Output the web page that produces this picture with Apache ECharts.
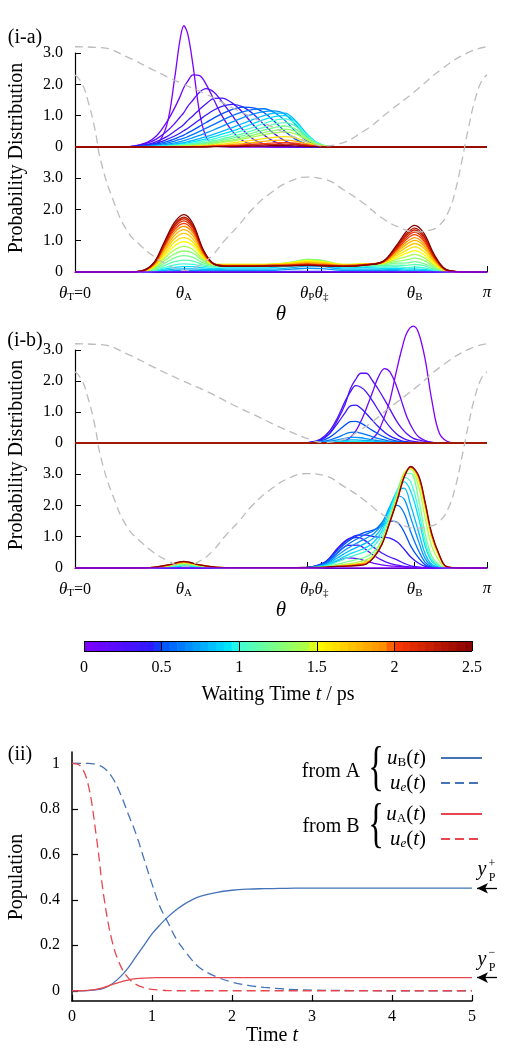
<!DOCTYPE html>
<html>
<head>
<meta charset="utf-8">
<script src="https://cdn.jsdelivr.net/npm/echarts@6.0.0/dist/echarts.min.js"></script>
<style>
  html, body { margin: 0; padding: 0; background: #fff; }
  #chart { width: 510px; height: 1050px; }
</style>
</head>
<body>
<div id="chart"></div>
<script>
const SERIF = '"Liberation Serif", "Times New Roman", serif'

// ---- theta marks
const thetaA = 0.83, thetaP = 1.77, thetaTS = 1.88, thetaB = 2.59
const thetaTickVals = [0, thetaA, thetaP, thetaTS, thetaB, Math.PI]
const thetaTickText = ['{i|θ}{s|T}{n|=0}', '{i|θ}{s|A}', '{i|θ}{s|P}', '{i|θ}{s|‡}', '{i|θ}{s|B}', '{i|π}']

// ---- potentials (drawn across each panel, units of the probability scale, lower baseline = 0)
const thetaPotE = [0, 0.2, 0.4, 0.6, 0.8, 1.0, 1.2, 1.4, 1.6, 1.8, 1.9, 2.0, 2.2, 2.4, 2.6, 2.8, 3.0, 3.1416]
const potExcited = [7.2, 7.17, 6.87, 6.45, 6.05, 5.68, 5.25, 4.85, 4.45, 4.12, 4.03, 4.08, 4.5, 5.15, 5.8, 6.5, 7.02, 7.2]
const thetaPotG = [0, 0.05, 0.1, 0.15, 0.2, 0.3, 0.4, 0.5, 0.6, 0.7, 0.83, 0.95, 1.05, 1.15, 1.25, 1.35, 1.5, 1.65, 1.77, 1.9, 2.05, 2.2, 2.35, 2.5, 2.6, 2.7, 2.78, 2.85, 2.9, 2.95, 3.0, 3.05, 3.1, 3.1416]
const potGround = [6.3, 6.05, 5.45, 4.6, 3.5, 2.2, 1.3, 0.85, 0.5, 0.25, 0.05, 0.22, 0.55, 1.05, 1.5, 2.0, 2.55, 2.92, 3.03, 2.97, 2.62, 2.2, 1.7, 1.38, 1.28, 1.33, 1.5, 1.95, 2.6, 3.55, 4.6, 5.5, 6.1, 6.3]

// ---- (i-a) upper
const thetaUpA = [0, 0.35, 0.45, 0.55, 0.62, 0.70, 0.76, 0.80, 0.83, 0.86, 0.90, 0.95, 1.00, 1.06, 1.12, 1.20, 1.28, 1.36, 1.44, 1.52, 1.60, 1.68, 1.76, 1.84, 1.95, 3.1416]
const timesUpA = [0, 0.1, 0.2, 0.3, 0.4, 0.5, 0.6, 0.7, 0.8, 0.9, 1.0, 1.1, 1.2, 1.3, 1.4, 1.6, 1.8, 2.0, 2.2, 2.5]
const probUpA = [
  [0, 0,0,.02,.08,.7,2.2,3.4,3.87,3.6,2.6, 1.1,.32,.06,.01,0,0,0,0,0,0, 0,0,0,0, 0],
  [0, 0,.03,.15,.35,.8,1.25,1.6,1.9,2.1,2.3, 2.28,2.0,1.5,1.0,.5,.2,.07,.02,0,0, 0,0,0,0, 0],
  [0, 0,.03,.12,.25,.5,.75,.95,1.1,1.3,1.5, 1.75,1.86,1.75,1.45,1.0,.55,.25,.1,.03,.01, 0,0,0,0, 0],
  [0, 0,.02,.08,.17,.33,.5,.62,.72,.85,1.0, 1.2,1.38,1.55,1.56,1.4,1.1,.7,.38,.17,.06, .02,0,0,0, 0],
  [0, 0,.02,.06,.12,.24,.35,.44,.52,.6,.72, .87,1.02,1.18,1.3,1.36,1.28,1.05,.72,.42,.2, .08,.02,0,0, 0],
  [0, 0,.01,.04,.09,.17,.26,.33,.38,.45,.54, .66,.78,.93,1.06,1.2,1.27,1.25,1.1,.82,.5, .25,.1,.03,0, 0],
  [0, 0,.01,.03,.06,.12,.19,.24,.28,.33,.4, .5,.6,.72,.85,1.0,1.12,1.2,1.22,1.1,.85, .5,.22,.07,0, 0],
  [0, 0,.01,.02,.04,.08,.13,.17,.2,.24,.3, .37,.45,.55,.66,.8,.94,1.05,1.13,1.15,1.05, .72,.35,.12,.01, 0],
  [0, 0,0,.01,.03,.06,.09,.12,.14,.17,.21, .27,.33,.41,.5,.62,.75,.88,1.0,1.08,1.08, .85,.45,.15,.01, 0],
  [0, 0,0,.01,.02,.04,.07,.09,.11,.13,.16, .21,.26,.33,.41,.51,.63,.75,.87,.97,1.0, .82,.45,.15,.01, 0],
  [0, 0,0,.01,.02,.03,.05,.07,.08,.1,.12, .16,.2,.26,.33,.42,.52,.63,.75,.85,.9, .76,.42,.14,.01, 0],
  [0, 0,0,0,.01,.02,.04,.05,.06,.07,.09, .12,.15,.2,.26,.34,.43,.53,.63,.73,.78, .67,.38,.13,.01, 0],
  [0, 0,0,0,.01,.02,.03,.04,.05,.06,.07, .09,.12,.16,.21,.28,.36,.45,.54,.62,.67, .58,.33,.11,.01, 0],
  [0, 0,0,0,.01,.01,.02,.03,.04,.04,.05, .07,.09,.13,.17,.23,.3,.38,.46,.53,.57, .5,.29,.1,.01, 0],
  [0, 0,0,0,0,.01,.02,.02,.03,.03,.04, .05,.07,.1,.14,.19,.25,.32,.39,.45,.48, .42,.25,.09,.01, 0],
  [0, 0,0,0,0,.01,.01,.01,.02,.02,.03, .04,.05,.07,.09,.13,.17,.22,.27,.31,.33, .29,.17,.06,0, 0],
  [0, 0,0,0,0,0,.01,.01,.01,.01,.02, .02,.03,.04,.06,.08,.11,.14,.18,.21,.22, .19,.11,.04,0, 0],
  [0, 0,0,0,0,0,0,0,.01,.01,.01, .01,.02,.03,.04,.05,.07,.09,.11,.13,.14, .12,.07,.03,0, 0],
  [0, 0,0,0,0,0,0,0,0,0,.01, .01,.01,.02,.02,.03,.04,.06,.07,.08,.09, .08,.05,.02,0, 0],
  [0, 0,0,0,0,0,0,0,0,0,0, 0,0,.01,.01,.01,.02,.03,.03,.04,.04, .03,.02,.01,0, 0]
]

// ---- (i-a) lower
const thetaLoA = [0, 0.35, 0.50, 0.60, 0.68, 0.76, 0.83, 0.90, 0.98, 1.06, 1.16, 1.30, 1.50, 1.66, 1.77, 1.88, 2.05, 2.22, 2.35, 2.45, 2.53, 2.59, 2.66, 2.74, 2.82, 2.92, 3.05, 3.1416]
const timesLoA = [0, 0.5, 0.7, 0.8, 0.9, 1.0, 1.1, 1.2, 1.3, 1.4, 1.5, 1.6, 1.7, 1.8, 1.9, 2.0, 2.1, 2.2, 2.3, 2.5]
const probLoA = [
  [0, 0,0,0,0,0,0,0,0,0,0,0,0,0,0,0,0,0,0,0,0,0,0,0,0,0,0, 0],
  [0, 0,0,0,.01,.01,.01,.01,.01,.01,.01,.01,.01,.02,.02,.02,.01,.01,.01,.01,.01,.01,0,0,0,0,0, 0],
  [0, 0,0,.01,.03,.04,.05,.05,.04,.04,.05,.05,.05,.09,.12,.11,.05,.05,.05,.04,.03,.03,.02,.01,0,0,0, 0],
  [0, 0,0,.02,.05,.09,.1,.1,.08,.08,.09,.09,.09,.14,.19,.18,.09,.09,.09,.08,.05,.06,.05,.02,0,0,0, 0],
  [0, 0,0,.03,.09,.15,.17,.17,.13,.11,.13,.13,.14,.2,.26,.24,.13,.14,.12,.12,.09,.1,.08,.04,.01,0,0, 0],
  [0, 0,0,.04,.14,.23,.26,.24,.18,.16,.17,.17,.18,.25,.32,.3,.17,.18,.16,.17,.14,.16,.13,.06,.01,0,0, 0],
  [0, 0,.01,.06,.2,.33,.38,.35,.23,.18,.2,.2,.21,.29,.37,.34,.2,.22,.2,.22,.21,.24,.2,.09,.02,0,0, 0],
  [0, 0,.01,.08,.27,.45,.52,.47,.28,.21,.22,.22,.23,.31,.4,.37,.22,.24,.23,.28,.29,.33,.27,.12,.02,0,0, 0],
  [0, 0,.01,.11,.35,.58,.67,.6,.34,.22,.23,.23,.24,.32,.4,.37,.23,.25,.26,.34,.39,.44,.37,.16,.03,0,0, 0],
  [0, 0,.01,.13,.43,.71,.82,.72,.39,.24,.24,.24,.25,.31,.38,.35,.24,.26,.27,.4,.49,.56,.46,.21,.04,0,0, 0],
  [0, 0,.02,.16,.5,.84,.97,.85,.44,.25,.24,.24,.25,.3,.36,.33,.24,.26,.29,.46,.6,.68,.56,.25,.05,0,0, 0],
  [0, 0,.02,.18,.57,.96,1.1,.95,.48,.25,.23,.23,.24,.28,.33,.31,.23,.26,.3,.52,.7,.8,.66,.3,.06,.01,0, 0],
  [0, 0,.02,.2,.64,1.07,1.23,1.05,.52,.25,.22,.22,.23,.27,.31,.29,.22,.25,.31,.57,.8,.91,.76,.34,.06,.01,0, 0],
  [0, 0,.02,.22,.7,1.17,1.35,1.15,.56,.25,.21,.21,.22,.25,.29,.27,.21,.24,.31,.62,.89,1.01,.84,.37,.07,.01,0, 0],
  [0, 0,.02,.23,.76,1.27,1.46,1.24,.59,.26,.21,.21,.22,.24,.27,.25,.21,.24,.32,.66,.97,1.1,.91,.41,.08,.01,0, 0],
  [0, 0,.02,.25,.81,1.35,1.55,1.31,.61,.25,.2,.2,.21,.23,.25,.23,.2,.23,.32,.7,1.05,1.19,.99,.44,.08,.01,0, 0],
  [0, 0,.03,.26,.85,1.42,1.63,1.38,.64,.26,.2,.2,.21,.22,.24,.22,.2,.24,.34,.74,1.12,1.27,1.05,.47,.09,.01,0, 0],
  [0, 0,.03,.27,.88,1.48,1.7,1.43,.66,.25,.19,.19,.2,.21,.23,.21,.19,.23,.33,.77,1.18,1.34,1.11,.5,.09,.01,0, 0],
  [0, 0,.03,.28,.91,1.52,1.75,1.48,.68,.26,.19,.19,.2,.21,.22,.2,.19,.23,.34,.8,1.23,1.4,1.16,.52,.1,.01,0, 0],
  [0, 0,.03,.29,.95,1.59,1.83,1.54,.69,.25,.18,.18,.19,.2,.21,.2,.18,.22,.34,.84,1.31,1.49,1.24,.55,.1,.01,0, 0]
]

// ---- (i-b) upper
const thetaUpB = [0, 1.72, 1.79, 1.87, 1.94, 2.00, 2.06, 2.10, 2.14, 2.18, 2.22, 2.27, 2.31, 2.36, 2.40, 2.45, 2.49, 2.53, 2.58, 2.62, 2.67, 2.72, 2.78, 2.86, 2.95, 3.1416]
const timesUpB = [0, 0.1, 0.2, 0.3, 0.4, 0.5, 0.6, 0.7, 0.8, 0.9, 1.0, 1.5, 2.0, 2.5]
const probUpB = [
  [0, 0,0,0,0,0,0,0,0,0,.02,.15,.35,.85,1.35,2.3,3.0,3.55,3.77,3.55,2.7,1.4,.3,.02,0, 0],
  [0, 0,0,0,0,.02,.08,.18,.38,.7,1.1,1.65,2.1,2.4,2.3,1.85,1.35,.85,.42,.2,.08,.02,0,0,0, 0],
  [0, 0,.01,.08,.3,.72,1.25,1.75,2.05,2.25,2.25,2.0,1.75,1.4,1.1,.72,.48,.3,.15,.1,.05,.02,.01,0,0, 0],
  [0, 0,.02,.12,.38,.8,1.35,1.65,1.85,1.8,1.65,1.35,1.08,.75,.52,.3,.18,.1,.05,.03,.01,0,0,0,0, 0],
  [0, 0,.02,.1,.3,.62,.98,1.2,1.22,1.12,.95,.72,.54,.35,.23,.13,.07,.04,.02,0,0,0,0,0,0, 0],
  [0, 0,.01,.06,.18,.37,.58,.69,.7,.64,.54,.4,.3,.19,.12,.07,.04,.02,0,0,0,0,0,0,0, 0],
  [0, 0,.01,.03,.09,.18,.29,.34,.35,.32,.27,.2,.15,.1,.06,.04,.02,.01,0,0,0,0,0,0,0, 0],
  [0, 0,0,.02,.05,.1,.15,.18,.18,.17,.14,.1,.08,.05,.03,.02,.01,0,0,0,0,0,0,0,0, 0],
  [0, 0,0,.01,.03,.05,.08,.1,.1,.09,.08,.06,.04,.03,.02,.01,0,0,0,0,0,0,0,0,0, 0],
  [0, 0,0,.01,.02,.03,.04,.05,.05,.05,.04,.03,.02,.02,.01,0,0,0,0,0,0,0,0,0,0, 0],
  [0, 0,0,0,.01,.02,.02,.03,.03,.03,.02,.02,.01,.01,0,0,0,0,0,0,0,0,0,0,0, 0],
  [0, 0,0,0,0,0,0,0,0,0,0,0,0,0,0,0,0,0,0,0,0,0,0,0,0, 0],
  [0, 0,0,0,0,0,0,0,0,0,0,0,0,0,0,0,0,0,0,0,0,0,0,0,0, 0],
  [0, 0,0,0,0,0,0,0,0,0,0,0,0,0,0,0,0,0,0,0,0,0,0,0,0, 0]
]

// ---- (i-b) lower
const thetaLoB = [0, 0.35, 0.57, 0.71, 0.83, 0.95, 1.09, 1.33, 1.64, 1.79, 1.91, 2.00, 2.08, 2.16, 2.22, 2.28, 2.34, 2.40, 2.46, 2.51, 2.56, 2.62, 2.67, 2.72, 2.78, 2.83, 2.94, 3.05, 3.1416]
const timesLoB = [0, 0.1, 0.2, 0.3, 0.4, 0.5, 0.6, 0.7, 0.8, 0.9, 1.0, 1.2, 1.4, 1.6, 1.8, 2.0, 2.5]
const probLoB = [
  [0, 0,0,0,0,0,0,0, 0,0,0,0,0,0,0,0,0,0,0,0,0,0,0,0,0,0,0, 0, 0],
  [0, 0,0,0,0,0,0,0, 0,.01,.07,.22,.32,.29,.22,.15,.1,.07,.05,.03,.02,.01,0,0,0,0,0, 0, 0],
  [0, 0,0,0,0,0,0,0, 0,.02,.15,.48,.72,.73,.58,.4,.25,.15,.09,.05,.03,.02,.01,0,0,0,0, 0, 0],
  [0, 0,0,0,0,0,0,0, 0,.03,.2,.62,.92,.98,.85,.65,.48,.35,.25,.15,.07,.03,.01,0,0,0,0, 0, 0],
  [0, 0,0,0,0,0,0,0, 0,.03,.2,.6,.9,1.05,1.05,1.0,.98,.95,.82,.6,.35,.15,.05,.01,0,0,0, 0, 0],
  [0, 0,0,0,.01,.01,0,0, 0,.03,.18,.55,.85,1.05,1.15,1.22,1.35,1.5,1.45,1.15,.7,.32,.1,.02,0,0,0, 0, 0],
  [0, 0,0,.01,.02,.01,0,0, 0,.02,.15,.48,.75,.95,1.08,1.2,1.45,1.85,2.0,1.75,1.15,.55,.18,.04,.01,0,0, 0, 0],
  [0, 0,0,.01,.03,.02,0,0, 0,.02,.12,.4,.63,.82,.95,1.1,1.4,1.95,2.3,2.2,1.6,.85,.3,.07,.01,0,0, 0, 0],
  [0, 0,0,.02,.05,.03,.01,0, 0,.02,.1,.32,.52,.68,.8,.97,1.3,1.95,2.45,2.55,2.0,1.15,.45,.12,.02,0,0, 0, 0],
  [0, 0,0,.03,.07,.04,.01,0, 0,.01,.08,.25,.42,.55,.66,.83,1.18,1.85,2.5,2.75,2.45,1.6,.7,.22,.04,0,0, 0, 0],
  [0, 0,0,.04,.09,.05,.01,0, 0,.01,.06,.2,.33,.44,.54,.7,1.06,1.75,2.5,2.9,2.75,1.85,.85,.28,.05,.01,0, 0, 0],
  [0, 0,.01,.05,.12,.06,.01,0, 0,.01,.04,.12,.2,.28,.36,.52,.9,1.62,2.4,3.0,3.02,2.2,1.1,.38,.08,.01,0, 0, 0],
  [0, 0,.01,.07,.15,.08,.02,0, 0,.01,.03,.08,.13,.19,.26,.42,.82,1.55,2.32,3.05,3.15,2.6,1.6,.7,.2,.03,0, 0, 0],
  [0, 0,.01,.08,.17,.09,.02,.01, 0,.01,.02,.06,.1,.14,.2,.36,.78,1.5,2.27,3.0,3.2,2.8,1.9,.95,.33,.04,0, 0, 0],
  [0, 0,.01,.09,.19,.1,.02,.01, 0,.01,.02,.05,.08,.12,.16,.34,.76,1.47,2.23,2.93,3.22,2.9,2.02,1.05,.38,.05,0, 0, 0],
  [0, 0,.01,.09,.2,.1,.02,.01, .01,.01,.02,.05,.07,.1,.14,.34,.75,1.46,2.21,2.91,3.23,2.93,2.07,1.08,.39,.05,0, 0, 0],
  [0, 0,.01,.1,.21,.1,.02,.01, .01,.02,.03,.05,.06,.08,.12,.35,.75,1.45,2.2,2.9,3.24,2.95,2.1,1.1,.4,.05,0, 0, 0]
]

// ---- colour bar
const cbTicks = [0, 0.5, 1, 1.5, 2, 2.5]

// ---- (ii) populations
const popTime = [0, 0.1, 0.2, 0.3, 0.4, 0.5, 0.6, 0.7, 0.8, 0.9, 1.0, 1.1, 1.2, 1.3, 1.4, 1.5, 1.6, 1.8, 2.0, 2.2, 2.4, 2.6, 2.8, 3.0, 3.5, 4.0, 4.5, 5.0]
const popB_fromA = [0, 0, .001, .004, .012, .03, .06, .1, .15, .2, .25, .29, .325, .355, .38, .4, .415, .432, .442, .447, .449, .45, .451, .451, .451, .451, .451, .451]
const popE_fromA = [1, 1, 1, .995, .98, .94, .87, .78, .69, .58, .47, .37, .3, .23, .18, .135, .1, .062, .038, .024, .015, .009, .005, .003, .001, 0, 0, 0]
const popA_fromB = [0, 0, .002, .006, .015, .027, .038, .047, .053, .056, .057, .058, .058, .058, .058, .058, .058, .058, .058, .058, .058, .058, .058, .058, .058, .058, .058, .058]
const popE_fromB = [1, .99, .91, .69, .41, .22, .115, .058, .028, .014, .006, .003, .001, 0, 0, 0, 0, 0, 0, 0, 0, 0, 0, 0, 0, 0, 0, 0]
const popTicks = [0, 0.2, 0.4, 0.6, 0.8, 1]
const yPplus = 0.451, yPminus = 0.058

// ---- styling helpers
const cmapStops = [[0, '#7f00ff'], [0.45, '#2a1cff'], [0.5, '#0050ff'], [0.95, '#00ecff'], [1.0, '#40ffd4'],
  [1.45, '#b4ff3c'], [1.5, '#ffff00'], [1.95, '#ff8a00'], [2.0, '#ff3a00'], [2.5, '#850000']]
const hex2rgb = h => [1, 3, 5].map(i => parseInt(h.slice(i, i + 2), 16))
function cmap(t) {
  for (let i = 0; i < cmapStops.length - 1; i++) {
    const [a, ca] = cmapStops[i], [b, cb] = cmapStops[i + 1]
    if (t <= b + 1e-9) {
      const f = Math.max(0, (t - a) / (b - a))
      const A = hex2rgb(ca), B = hex2rgb(cb)
      return 'rgb(' + A.map((v, k) => Math.round(v + (B[k] - v) * f)).join(',') + ')'
    }
  }
  return cmapStops[cmapStops.length - 1][1]
}
const BLUE = '#4473b8', RED = '#e8464f'

function probSeries(thetas, times, vals, ax, zeroOnTop) {
  return times.map((t, k) => ({
    type: 'line', xAxisIndex: ax, yAxisIndex: ax,
    data: thetas.map((th, i) => [th, vals[k][i]]),
    smooth: 0.35, symbol: 'none', clip: false, silent: true,
    lineStyle: { color: cmap(t), width: 1.3 },
    z: zeroOnTop && t === 0 ? 4 : 2
  }))
}
function potSeries(ax) {
  const st = { color: '#bcbcbc', width: 1.3, type: [8, 5] }
  return [
    { type: 'line', xAxisIndex: ax, yAxisIndex: ax, data: thetaPotE.map((th, i) => [th, potExcited[i]]),
      smooth: 0.5, symbol: 'none', clip: false, silent: true, lineStyle: st, z: 5 },
    { type: 'line', xAxisIndex: ax, yAxisIndex: ax, data: thetaPotG.map((th, i) => [th, potGround[i]]),
      smooth: 0.5, symbol: 'none', clip: false, silent: true, lineStyle: st, z: 5 }
  ]
}

const thetaRich = {
  i: { fontFamily: SERIF, fontStyle: 'italic', fontSize: 17, color: '#000' },
  s: { fontFamily: SERIF, fontSize: 11, color: '#000', padding: [8, 0, 0, 0] },
  n: { fontFamily: SERIF, fontSize: 16, color: '#000' }
}
const hiddenX = g => ({ gridIndex: g, type: 'value', min: 0, max: Math.PI, show: false })
const thetaX = g => ({
  gridIndex: g, type: 'value', min: 0, max: Math.PI,
  axisLine: { onZero: false, lineStyle: { color: '#000', width: 1.2 } },
  axisTick: { show: true, inside: true, length: 6, customValues: thetaTickVals.slice(1), lineStyle: { color: '#000' } },
  axisLabel: {
    customValues: thetaTickVals, margin: 12, rich: thetaRich,
    formatter: v => { const k = thetaTickVals.findIndex(x => Math.abs(x - v) < 1e-6); return k < 0 ? '' : thetaTickText[k] }
  },
  splitLine: { show: false },
  name: 'θ', nameLocation: 'middle', nameGap: 30,
  nameTextStyle: { fontFamily: SERIF, fontStyle: 'italic', fontSize: 21, color: '#000' }
})
const probY = g => ({
  gridIndex: g, type: 'value', min: 0, max: 3, interval: 1,
  axisLine: { show: false }, splitLine: { show: false },
  axisTick: { show: true, inside: true, length: 6, lineStyle: { color: '#000' } },
  axisLabel: { margin: 12, fontFamily: SERIF, fontSize: 16, color: '#000', formatter: v => v === 0 ? '0' : v.toFixed(1) }
})
const overY = g => ({
  gridIndex: g, type: 'value', min: 0, max: 7,
  axisLine: { show: true, onZero: false, lineStyle: { color: '#000', width: 1.2 } },
  axisTick: { show: false }, axisLabel: { show: false }, splitLine: { show: false }
})

const cbBins = []
for (let t = 0; t < 2.5 - 1e-9; t += 0.05) cbBins.push([t, t + 0.05])

const legendText = {
  uB: '{u|u}{s|B}{n|(}{u|t}{n|)}', ueA: '{u|u}{se|e}{n|(}{u|t}{n|)}',
  uA: '{u|u}{s|A}{n|(}{u|t}{n|)}', ueB: '{u|u}{se|e}{n|(}{u|t}{n|)}'
}
const legendRich = {
  u: { fontFamily: SERIF, fontStyle: 'italic', fontSize: 21, color: '#000' },
  n: { fontFamily: SERIF, fontSize: 21, color: '#000' },
  s: { fontFamily: SERIF, fontSize: 13, color: '#000', padding: [9, 0, 0, 0] },
  se: { fontFamily: SERIF, fontStyle: 'italic', fontSize: 13, color: '#000', padding: [9, 0, 0, 0] }
}
const legendBase = {
  orient: 'vertical', right: 27, padding: 0, itemWidth: 41, itemHeight: 2, itemGap: 3, align: 'right',
  selectedMode: false, formatter: n => legendText[n],
  itemStyle: { opacity: 0 },
  textStyle: { rich: legendRich, lineHeight: 22, padding: [0, 10, 0, 0] }
}

const txt = (text, x, y, size, extra) => ({
  type: 'text', x, y, silent: true,
  style: Object.assign({ text, fontFamily: SERIF, fontSize: size, fill: '#000', align: 'center', verticalAlign: 'middle' }, extra || {})
})
const rot = (text, x, y) => Object.assign(txt(text, x, y, 20), { rotation: Math.PI / 2 })

const chart = echarts.init(document.getElementById('chart'))
chart.setOption({
  animation: false,
  backgroundColor: '#fff',
  grid: [
    { left: 75, top: 53, width: 412, height: 94 },
    { left: 75, top: 178, width: 412, height: 94 },
    { left: 75, top: 53, width: 412, height: 219 },
    { left: 75, top: 350, width: 412, height: 93 },
    { left: 75, top: 474, width: 412, height: 94 },
    { left: 75, top: 350, width: 412, height: 218 },
    { left: 84, top: 641, width: 388, height: 10 },
    { left: 72, top: 752, width: 400, height: 249 },
    { left: 477, top: 752, width: 20, height: 249 }
  ],
  xAxis: [
    hiddenX(0), thetaX(1), hiddenX(2), hiddenX(3), thetaX(4), hiddenX(5),
    {
      gridIndex: 6, type: 'value', min: 0, max: 2.5, interval: 0.5, z: 5,
      axisLine: { show: false }, axisTick: { show: false },
      axisLabel: { margin: 9, fontFamily: SERIF, fontSize: 16, color: '#000' },
      splitLine: { show: true, lineStyle: { color: '#000', width: 1 } },
      name: '{n|Waiting Time }{i|t}{n| / ps}', nameLocation: 'middle', nameGap: 34,
      nameTextStyle: { rich: { n: { fontFamily: SERIF, fontSize: 20, color: '#000' }, i: { fontFamily: SERIF, fontStyle: 'italic', fontSize: 20, color: '#000' } } }
    },
    {
      gridIndex: 7, type: 'value', min: 0, max: 5, interval: 1,
      axisLine: { onZero: false, lineStyle: { color: '#000', width: 1.5 } },
      axisTick: { inside: true, length: 6, lineStyle: { color: '#000', width: 1.2 } },
      axisLabel: { margin: 8, fontFamily: SERIF, fontSize: 16, color: '#000' },
      splitLine: { show: false },
      name: '{n|Time }{i|t}', nameLocation: 'middle', nameGap: 21,
      nameTextStyle: { rich: { n: { fontFamily: SERIF, fontSize: 20, color: '#000' }, i: { fontFamily: SERIF, fontStyle: 'italic', fontSize: 20, color: '#000' } } }
    },
    { gridIndex: 8, type: 'value', min: 0, max: 1, show: false }
  ],
  yAxis: [
    probY(0), probY(1), overY(2), probY(3), probY(4), overY(5),
    {
      gridIndex: 6, type: 'value', min: 0, max: 1, interval: 1, z: 5,
      axisLine: { show: false }, axisTick: { show: false }, axisLabel: { show: false },
      splitLine: { show: true, lineStyle: { color: '#000', width: 1 } }
    },
    {
      gridIndex: 7, type: 'value', min: -0.045, max: 1.05,
      axisLine: { onZero: false, lineStyle: { color: '#000', width: 1.5 } },
      axisTick: { inside: true, length: 6, customValues: popTicks, lineStyle: { color: '#000', width: 1.2 } },
      axisLabel: { customValues: popTicks, margin: 12, fontFamily: SERIF, fontSize: 16, color: '#000', formatter: v => String(+v.toFixed(1)) },
      splitLine: { show: false }
    },
    { gridIndex: 8, type: 'value', min: -0.045, max: 1.05, show: false }
  ],
  legend: [
    Object.assign({ top: 747, data: ['uB', 'ueA'] }, legendBase),
    Object.assign({ top: 803, data: ['uA', 'ueB'] }, legendBase)
  ],
  series: [
    ...probSeries(thetaUpA, timesUpA, probUpA, 0, false),
    ...probSeries(thetaLoA, timesLoA, probLoA, 1, true),
    ...potSeries(2),
    ...probSeries(thetaUpB, timesUpB, probUpB, 3, false),
    ...probSeries(thetaLoB, timesLoB, probLoB, 4, true),
    ...potSeries(5),
    {
      type: 'custom', xAxisIndex: 6, yAxisIndex: 6, data: cbBins, silent: true,
      renderItem: (params, api) => {
        const p0 = api.coord([api.value(0), 1]), p1 = api.coord([api.value(1), 0])
        return { type: 'rect', shape: { x: p0[0], y: p0[1], width: p1[0] - p0[0] + 0.6, height: p1[1] - p0[1] },
          style: { fill: cmap((api.value(0) + api.value(1)) / 2) } }
      }
    },
    { name: 'uB', type: 'line', xAxisIndex: 7, yAxisIndex: 7, data: popTime.map((t, i) => [t, popB_fromA[i]]),
      smooth: 0.4, symbol: 'none', lineStyle: { color: BLUE, width: 1.3 }, itemStyle: { color: BLUE } },
    { name: 'ueA', type: 'line', xAxisIndex: 7, yAxisIndex: 7, data: popTime.map((t, i) => [t, popE_fromA[i]]),
      smooth: 0.4, symbol: 'none', lineStyle: { color: BLUE, width: 1.3, type: [9, 5] }, itemStyle: { color: BLUE } },
    { name: 'uA', type: 'line', xAxisIndex: 7, yAxisIndex: 7, data: popTime.map((t, i) => [t, popA_fromB[i]]),
      smooth: 0.4, symbol: 'none', lineStyle: { color: RED, width: 1.3 }, itemStyle: { color: RED } },
    { name: 'ueB', type: 'line', xAxisIndex: 7, yAxisIndex: 7, data: popTime.map((t, i) => [t, popE_fromB[i]]),
      smooth: 0.4, symbol: 'none', lineStyle: { color: RED, width: 1.3, type: [9, 5] }, itemStyle: { color: RED } },
    {
      type: 'line', xAxisIndex: 8, yAxisIndex: 8, data: [], silent: true,
      markLine: {
        silent: true, symbol: ['none', 'arrow'], symbolSize: [8, 11], label: { show: false },
        lineStyle: { color: '#000', width: 1.3, type: 'solid' },
        data: [[{ coord: [1, yPplus] }, { coord: [0, yPplus] }], [{ coord: [1, yPminus] }, { coord: [0, yPminus] }]]
      }
    }
  ],
  graphic: [
    txt('(i-a)', 25, 38, 20),
    txt('(i-b)', 25, 341, 20),
    txt('(ii)', 20, 755, 20),
    rot('Probability Distribution', 17, 158),
    rot('Probability Distribution', 17, 455),
    rot('Population', 17, 877),
    txt('from A', 331, 772, 20),
    txt('from B', 331, 827, 20),
    Object.assign(txt('{', 376, 770, 54), { scaleX: 0.6 }),
    Object.assign(txt('{', 376, 827, 54), { scaleX: 0.6 }),
    txt('y', 482, 870, 20, { fontStyle: 'italic' }),
    txt('+', 492, 864, 12),
    txt('P', 492, 878, 12),
    txt('y', 482, 960, 20, { fontStyle: 'italic' }),
    txt('−', 492, 953, 12),
    txt('P', 492, 968, 12)
  ]
})
</script>
</body>
</html>
